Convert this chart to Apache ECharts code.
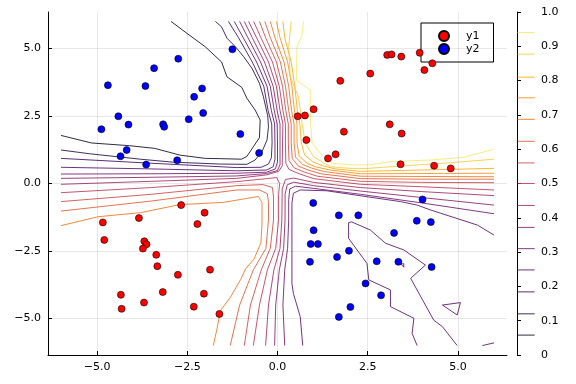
<!DOCTYPE html>
<html><head><meta charset="utf-8">
<script src="https://cdn.jsdelivr.net/npm/echarts@6/dist/echarts.min.js"></script>
<style>html,body{margin:0;padding:0;background:#fff}#c{width:576px;height:384px}</style>
</head><body><div id="c"></div>
<script>
// contour levels and their colours (inferno)
const levels = [0.058,0.12,0.184,0.248,0.31,0.372,0.436,0.5,0.56,0.623,0.687,0.75,0.81,0.877,0.94];
const levelColors = ['#0d0623','#1f0b42','#3b0a60','#55106b','#6e186d','#882269','#a22c60','#bc3754','#d04744','#e25a32','#f0731d','#f88f12','#fbaa10','#f7cc38','#f8e76c'];

// contour polylines per level
const c01 = [[[-6,1.78],[-5.15,1.5],[-4.1,1.4],[-3.4,1.3],[-2.7,1.05],[-2.0,0.93],[-1.59,0.92],[-1.0,0.9],[-0.85,1.0],[-0.67,1.36],[-0.5,1.7],[-0.48,2.35],[-0.62,2.72],[-0.85,3.16],[-0.99,3.56],[-1.4,3.95],[-1.55,4.5],[-2.0,5.06],[-2.51,5.56],[-2.95,6.0]]];
const c02 = [[[-6,1.24],[-5.2,1.1],[-3.8,0.9],[-2.9,0.79],[-1.6,0.72],[-0.85,0.71],[-0.62,0.87],[-0.43,1.18],[-0.29,1.61],[-0.25,2.1],[-0.27,2.5],[-0.39,3.21],[-0.5,3.71],[-0.71,4.27],[-0.94,4.7],[-1.17,5.07],[-1.4,5.38],[-1.55,5.8],[-1.72,6.0]]];
const c03 = [
  [[-6,0.93],[-3.5,0.75],[-1.13,0.59],[-0.45,0.6],[-0.25,0.72],[-0.17,0.95],[-0.15,1.5],[-0.16,2.2],[-0.26,2.7],[-0.38,3.6],[-0.7,4.5],[-1.08,5.4],[-1.36,6.0]]
];
const c04 = [
  [[-6,0.6],[-3.5,0.54],[-1.13,0.47],[-0.3,0.5],[-0.12,0.62],[-0.07,0.9],[-0.07,1.5],[-0.08,2.2],[-0.17,2.7],[-0.29,3.6],[-0.58,4.5],[-0.95,5.4],[-1.2,6.0]],
  [[6,-1.91],[5.54,-1.54],[4.52,-1.1],[4.24,-0.98],[3.87,-0.8],[3.41,-0.67],[2.48,-0.49],[1.37,-0.27],[0.63,-0.24],[0.44,-0.36],[0.4,-0.73],[0.4,-3.7],[0.44,-4.07],[0.63,-4.93],[0.7,-6.0]],
  [[3.87,-6.0],[3.73,-5.55],[3.78,-4.99],[3.13,-4.56],[3.13,-3.94],[2.53,-3.57],[2.48,-2.96],[1.97,-2.03],[1.97,-1.45],[2.0,-1.38],[2.05,-1.42],[2.57,-1.72],[2.99,-2.21],[3.5,-2.46],[4.1,-3.02],[3.69,-3.51],[4.33,-5.06],[4.57,-5.3],[4.98,-6.0]],
  [[4.57,-4.5],[5.07,-4.41],[4.98,-4.87],[4.57,-4.5]],
  [[3.42,-2.98],[3.5,-2.97],[3.5,-3.1],[3.42,-2.98]],
  [[5.68,-6.0],[6.0,-5.9]]
];
const c05 = [
  [[-6,0.35],[-3.5,0.36],[-1.13,0.38],[-0.3,0.42],[-0.06,0.54],[0.0,0.8],[0.0,1.5],[-0.01,2.2],[-0.09,2.7],[-0.2,3.6],[-0.47,4.5],[-0.82,5.4],[-1.05,6.0]],
  [[6,-1.12],[4,-0.72],[2.3,-0.4],[1.0,-0.18],[0.5,-0.1],[0.34,-0.2],[0.31,-0.6],[0.31,-1.35],[0.28,-2.4],[0.2,-3.2],[0.15,-4.5],[0.2,-6.0]]
];
const c06 = [
  [[-6,0.19],[-3.5,0.23],[-1.13,0.28],[-0.3,0.37],[0.0,0.48],[0.07,0.7],[0.07,1.5],[0.07,2.2],[-0.01,2.7],[-0.12,3.6],[-0.36,4.5],[-0.7,5.4],[-0.92,6.0]],
  [[6,-0.8],[4,-0.52],[2.3,-0.28],[1.0,-0.08],[0.45,0.05],[0.27,-0.05],[0.21,-0.4],[0.21,-1.35],[0.17,-2.4],[0.05,-3.2],[-0.05,-4.5],[-0.08,-6.0]]
];
const c07 = [
  [[-6,-0.03],[-3.5,0.08],[-1.13,0.19],[-0.3,0.32],[0.03,0.45],[0.13,0.65],[0.14,1.5],[0.15,2.2],[0.07,2.7],[-0.03,3.6],[-0.25,4.5],[-0.58,5.4],[-0.8,6.0]],
  [[6,-0.45],[4,-0.3],[2.3,-0.15],[1.0,0.04],[0.45,0.2],[0.22,0.15],[0.13,-0.2],[0.12,-1.35],[0.07,-2.4],[-0.1,-3.2],[-0.25,-4.5],[-0.33,-6.0]]
];
const c08 = [
  [[-0.66,6.0],[-0.46,5.4],[-0.14,4.5],[0.05,3.6],[0.15,2.7],[0.22,2.2],[0.22,1.5],[0.23,0.75],[0.32,0.52],[0.6,0.36],[1.0,0.18],[2.3,-0.03],[4,-0.12],[6,-0.24]],
  [[-6,-0.34],[-3.5,-0.15],[-1.13,0.07],[-0.3,0.18],[-0.02,0.22],[0.06,0.0],[0.03,-0.4],[0.03,-1.35],[-0.05,-2.4],[-0.28,-3.2],[-0.5,-4.5],[-0.67,-6.0]]
];
const c09 = [
  [[-0.5,6.0],[-0.33,5.4],[-0.03,4.5],[0.14,3.6],[0.23,2.7],[0.3,2.2],[0.3,1.5],[0.32,0.85],[0.46,0.58],[0.75,0.42],[1.1,0.27],[2.3,0.08],[4,0.04],[6,0.03]],
  [[-6,-0.67],[-3.5,-0.4],[-1.13,-0.08],[-0.4,-0.04],[-0.14,-0.15],[-0.11,-0.5],[-0.11,-1.35],[-0.2,-2.4],[-0.45,-3.2],[-0.75,-4.5],[-0.92,-6.0]]
];
const c10 = [
  [[-0.35,6.0],[-0.2,5.4],[0.08,4.5],[0.22,3.6],[0.31,2.7],[0.38,2.2],[0.38,1.5],[0.41,0.92],[0.58,0.64],[0.85,0.5],[1.2,0.36],[2.3,0.18],[4,0.16],[6,0.16]],
  [[-6,-1.02],[-3.5,-0.65],[-1.13,-0.24],[-0.5,-0.24],[-0.28,-0.38],[-0.25,-0.7],[-0.25,-1.35],[-0.32,-2.4],[-0.67,-3.2],[-1.05,-4.5],[-1.31,-6.0]]
];
const c11 = [
  [[-0.2,6.0],[-0.07,5.4],[0.18,4.5],[0.31,3.6],[0.39,2.7],[0.46,2.2],[0.46,1.5],[0.5,0.98],[0.7,0.7],[0.95,0.57],[1.3,0.44],[2.3,0.27],[4,0.26],[6,0.25]],
  [[-6,-1.56],[-4.97,-1.23],[-3.8,-1.08],[-2.7,-0.78],[-1.5,-0.7],[-0.53,-0.48],[-0.43,-0.7],[-0.43,-1.5],[-0.46,-2.2],[-0.65,-2.8],[-0.88,-3.15],[-1.02,-3.55],[-1.3,-4.2],[-1.58,-4.7],[-1.68,-5.4],[-1.78,-6.0]]
];
const c12 = [[[-0.03,6.0],[0.07,5.4],[0.28,4.5],[0.4,3.6],[0.47,2.7],[0.54,2.2],[0.54,1.5],[0.6,1.02],[0.82,0.75],[1.05,0.62],[1.45,0.5],[2.3,0.36],[4,0.37],[6,0.38]]];
const c13 = [[[0.15,6.0],[0.2,5.4],[0.38,4.5],[0.48,3.6],[0.55,2.7],[0.62,2.2],[0.66,1.5],[0.75,1.06],[0.98,0.8],[1.25,0.66],[1.6,0.54],[2.3,0.45],[4,0.5],[6,0.56]]];
const c14 = [[[0.38,6.0],[0.31,5.07],[0.35,3.96],[0.58,3.21],[0.68,2.23],[0.77,1.49],[1.0,0.99],[1.46,0.62],[2.02,0.56],[2.5,0.56],[3.13,0.62],[4.8,0.77],[6,0.9]]];
const c15 = [[[0.72,6.0],[0.68,5.5],[0.54,5.07],[0.52,3.83],[0.91,3.46],[0.91,2.35],[0.96,1.49],[1.19,1.12],[1.51,0.75],[2.07,0.69],[2.53,0.69],[3.13,0.81],[4.24,0.87],[5.17,0.97],[6.0,1.27]]];
const contours = [c01,c02,c03,c04,c05,c06,c07,c08,c09,c10,c11,c12,c13,c14,c15];

// scatter points
const y1Points = [[3.04,4.76],[3.16,4.78],[3.43,4.70],[3.94,4.84],[4.29,4.45],[4.07,4.20],[2.57,4.07],[1.74,3.80],[1.0,2.75],[0.56,2.49],[0.76,2.52],[3.11,2.19],[1.84,1.92],[3.44,1.85],[0.80,1.61],[1.61,1.08],[1.40,0.93],[3.41,0.71],[4.34,0.66],[4.80,0.56],
  [-2.67,-0.80],[-2.02,-1.08],[-2.22,-1.5],[-4.84,-1.44],[-3.84,-1.28],[-4.80,-2.09],[-3.69,-2.14],[-3.63,-2.25],[-3.73,-2.41],[-3.36,-2.64],[-3.33,-3.06],[-2.76,-3.38],[-1.87,-3.19],[-3.18,-4.02],[-2.04,-4.08],[-4.34,-4.12],[-4.32,-4.64],[-3.70,-4.41],[-2.32,-4.56],[-1.61,-4.83]];
const y2Points = [[-1.25,4.97],[-2.75,4.62],[-3.42,4.27],[-4.70,3.64],[-3.66,3.61],[-2.09,3.52],[-2.31,3.21],[-2.06,2.61],[-4.41,2.49],[-2.46,2.38],[-4.13,2.18],[-3.17,2.19],[-3.14,2.10],[-4.88,2.01],[-1.03,1.83],[-0.51,1.13],[-4.18,1.24],[-4.35,1.01],[-2.78,0.86],[-3.64,0.70],
  [4.02,-0.59],[0.99,-0.72],[1.70,-1.18],[2.24,-1.18],[3.86,-1.38],[4.25,-1.43],[1.00,-1.73],[3.23,-1.83],[0.92,-2.24],[1.12,-2.24],[1.98,-2.49],[1.65,-2.72],[0.90,-2.90],[2.75,-2.88],[3.35,-2.90],[4.27,-3.09],[2.44,-3.70],[2.87,-4.14],[2.02,-4.57],[1.70,-4.94]];

const xTicks = [-5,-2.5,0,2.5,5];
const yTicks = [-5,-2.5,0,2.5,5];

const FONT = 'DejaVu Sans';
const fmt = v => (v < 0 ? '\u2212' : '') + Math.abs(v).toFixed(1);

const series = [];
series.push({
  type: 'line', data: [], z: 1, silent: true,
  markLine: {
    silent: true, symbol: ['none', 'none'], label: {show: false}, animation: false,
    lineStyle: {color: 'rgba(0,0,0,0.09)', width: 1, type: 'solid'},
    data: xTicks.map(v => ({xAxis: v})).concat(yTicks.map(v => ({yAxis: v})))
  }
});
contours.forEach((branches, i) => {
  branches.forEach(b => {
    series.push({type: 'line', data: b, symbol: 'none', showSymbol: false, silent: true, z: 2,
      lineStyle: {color: levelColors[i], width: 1, opacity: 0.85}});
  });
});
levels.forEach((lv, i) => {
  series.push({type: 'line', xAxisIndex: 1, yAxisIndex: 1, data: [[0.03, lv], [0.93, lv]], symbol: 'none', silent: true,
    lineStyle: {color: levelColors[i], width: 1, opacity: 0.85}});
});
series.push({name: 'y1', type: 'scatter', data: y1Points, symbolSize: 7, z: 5,
  itemStyle: {color: '#ff0000', borderColor: '#000', borderWidth: 0.6, opacity: 1}});
series.push({name: 'y2', type: 'scatter', data: y2Points, symbolSize: 7, z: 5,
  itemStyle: {color: '#0000ff', borderColor: '#000', borderWidth: 0.6, opacity: 1}});

const chart = echarts.init(document.getElementById('c'), null, {renderer: 'canvas'});
chart.setOption({
  animation: false,
  backgroundColor: '#fff',
  grid: [
    {left: 48, top: 12, width: 459, height: 343},
    {left: 517, top: 12, width: 19, height: 343}
  ],
  xAxis: [
    {type: 'value', gridIndex: 0, min: -6.36, max: 6.36,
      axisLine: {show: true, onZero: false, lineStyle: {color: '#000', width: 1}},
      axisTick: {show: true, inside: true, length: 4, customValues: xTicks, lineStyle: {color: '#000'}},
      axisLabel: {customValues: xTicks, formatter: fmt, fontFamily: FONT, fontSize: 11, color: '#000', margin: 7},
      splitLine: {show: false}},
    {type: 'value', gridIndex: 1, min: 0, max: 1, show: false}
  ],
  yAxis: [
    {type: 'value', gridIndex: 0, min: -6.35, max: 6.35,
      axisLine: {show: true, onZero: false, lineStyle: {color: '#000', width: 1}},
      axisTick: {show: true, inside: true, length: 4, customValues: yTicks, lineStyle: {color: '#000'}},
      axisLabel: {customValues: yTicks, formatter: fmt, fontFamily: FONT, fontSize: 11, color: '#000', margin: 7},
      splitLine: {show: false}},
    {type: 'value', gridIndex: 1, position: 'right', min: 0, max: 1, interval: 0.1,
      axisLine: {show: true, lineStyle: {color: '#000', width: 1}},
      axisTick: {show: true, length: 4, lineStyle: {color: '#000'}},
      axisLabel: {formatter: v => v === 0 ? '0' : v.toFixed(1), fontFamily: FONT, fontSize: 11, color: '#000', margin: 5},
      splitLine: {show: false}}
  ],
  legend: {
    data: ['y1', 'y2'], orient: 'vertical', left: 421, top: 23,
    padding: [7, 14, 7, 17], itemWidth: 10, itemHeight: 10, itemGap: 1, icon: 'circle',
    borderColor: '#000', borderWidth: 1, backgroundColor: '#fff', borderRadius: 0,
    textStyle: {fontFamily: FONT, fontSize: 11, color: '#000', lineHeight: 12, padding: [0, 0, 0, 12]}
  },
  series: series
});
</script></body></html>
